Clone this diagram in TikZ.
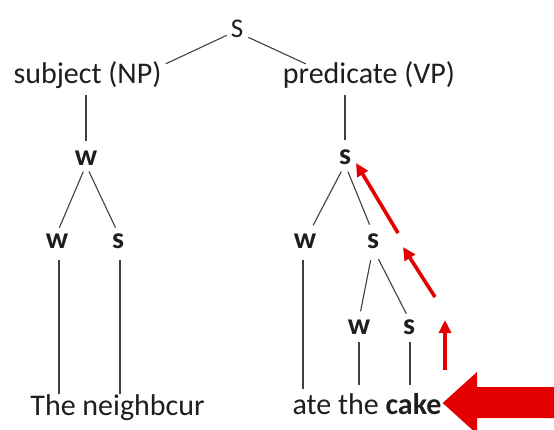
\documentclass[tikz,border=0pt]{standalone}
\usepackage{fontspec}
\setmainfont{Carlito}
\usetikzlibrary{arrows.meta}
\definecolor{ink}{HTML}{1E1E1E}
\definecolor{edge}{HTML}{404040}
\definecolor{hot}{RGB}{228,0,0}
\begin{document}
\begin{tikzpicture}[x=1pt,y=-1pt,
  lbl/.style={inner sep=0pt,anchor=base,text=ink,font=\fontsize{30}{36}\selectfont},
  ws/.style={lbl,font=\fontsize{30}{36}\selectfont\bfseries},
  tree/.style={draw=edge,line width=1.1pt},
  redarrow/.style={draw=hot,line width=3.6pt,-{Triangle[length=13pt,width=12pt]}}]
\useasboundingbox[fill=white] (0,0) rectangle (554,429);

% labels
\node[lbl,font=\fontsize{27}{32}\selectfont] (S) at (237,37) {S};
\node[lbl] (subj) at (87.5,83) {subject (NP)};
\node[lbl] (pred) at (369,83) {predicate (VP)};
\node[ws] (w1) at (86,165) {w};
\node[ws] (s1) at (345,164) {s};
\node[ws] (w2) at (57,248) {w};
\node[ws] (s2) at (118,248) {s};
\node[ws] (w3) at (305,248) {w};
\node[ws] (s3) at (373,248) {s};
\node[ws] (w4) at (359,334) {w};
\node[ws] (s4) at (409,334) {s};
\node[lbl] (words1) at (117.5,415) {The neighbcur};
\node[lbl] (words2) at (367,414) {ate the \textbf{cake}};

% tree edges
\draw[tree] ([xshift=-4pt,yshift=2pt]S.south west) -- ([xshift=4pt,yshift=-3pt]subj.north east);
\draw[tree] ([xshift=5pt]S.south east) -- ([xshift=23pt,yshift=-3pt]pred.north west);
\draw[tree] ([yshift=-7pt]subj.south -| w1) -- ([yshift=9pt]w1.north);
\draw[tree] ([yshift=-7pt]pred.south -| s1) -- ([yshift=9pt]s1.north);
\draw[tree,shorten <=7pt,shorten >=6pt] (w1.south) -- (w2.north);
\draw[tree,shorten <=7pt,shorten >=6pt] (w1.south) -- (s2.north);
\draw[tree,shorten <=8pt,shorten >=9pt] (s1.south) -- ([xshift=4pt]w3.north);
\draw[tree,shorten <=8pt,shorten >=9pt] (s1.south) -- (s3.north);
\draw[tree,shorten <=12pt,shorten >=8pt] (s3.south) -- (w4.north);
\draw[tree,shorten <=12pt,shorten >=6pt] (s3.south) -- (s4.north);
\draw[tree] ([xshift=2pt,yshift=-12pt]w2.south) -- ([xshift=2pt]w2.south |- words1.north);
\draw[tree] ([xshift=2pt,yshift=-12pt]s2.south) -- ([xshift=2pt]s2.south |- words1.north);
\draw[tree] ([xshift=-2pt,yshift=-12pt]w3.south) -- ([xshift=-2pt,yshift=4pt]w3.south |- words2.north);
\draw[tree] ([yshift=-8pt]w4.south) -- ([yshift=8pt]w4.south |- words2.north);
\draw[tree] ([xshift=1pt,yshift=-8pt]s4.south) -- ([xshift=1pt,yshift=8pt]s4.south |- words2.north);

% red arrows
\coordinate (a1s) at (398,233); \coordinate (a1e) at (356,163);
\coordinate (a2s) at (435,297); \coordinate (a2e) at (403,247);
\coordinate (a3s) at (445,370); \coordinate (a3e) at (445,320);
\draw[redarrow] (a1s) -- (a1e);
\draw[redarrow] (a2s) -- (a2e);
\draw[redarrow] (a3s) -- (a3e);

\begin{scope}
\clip (0,0) rectangle (554,429);
\fill[hot] ([xshift=1pt]words2.east |- 0,403) -- (477,372) -- (477,387) -- (560,387)
  -- (560,418) -- (477,418) -- (477,434) -- cycle;
\end{scope}
\end{tikzpicture}
\end{document}
